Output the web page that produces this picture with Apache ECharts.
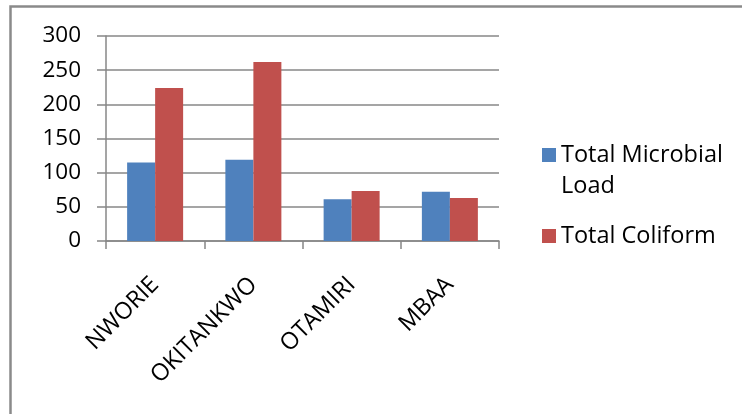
<!DOCTYPE html>
<html>
<head>
<meta charset="utf-8">
<script src="https://cdn.jsdelivr.net/npm/echarts@6/dist/echarts.min.js"></script>
<style>
  html, body { margin: 0; padding: 0; background: #fff; }
  #chart { width: 742px; height: 414px; }
</style>
</head>
<body>
<div id="chart"></div>
<script>
// Sampling stations along the rivers
const categories = ['NWORIE', 'OKITANKWO', 'OTAMIRI', 'MBAA'];
// Counts per station
const microbialLoad = [115, 119, 61, 72];
const coliform = [224, 262, 73, 63];
// Value axis range
const yMin = 0;
const yMax = 300;
const yStep = 50;

const FONT = 'Open Sans';
const GRID_GRAY = '#878787';
const LINE_H = 31;

// Legend swatch for a two-line label: a 14px square beside the first line,
// inside a box as tall as both lines.
const twoLineSwatch = 'path://M0,0L0.01,0M0,8.5L14,8.5L14,22.5L0,22.5Z M0,62L0.01,62';

const legendText = {
  fontFamily: FONT,
  fontSize: 23.5,
  color: '#000',
  lineHeight: LINE_H
};

const chart = echarts.init(document.getElementById('chart'), null, { renderer: 'canvas' });

chart.setOption({
  backgroundColor: '#ffffff',
  animation: false,
  textStyle: { fontFamily: FONT },
  graphic: [{
    type: 'rect',
    shape: { x: 10.5, y: 6.5, width: 1000, height: 1000 },
    style: { fill: 'none', stroke: '#8a8a8a', lineWidth: 2.5 },
    silent: true
  }],
  grid: { left: 106, right: 243, top: 36, bottom: 173, containLabel: false },
  legend: [
    {
      orient: 'vertical',
      left: 542,
      top: 139.5,
      padding: 0,
      itemWidth: 14,
      itemHeight: 2 * LINE_H,
      formatter: function () { return 'Total Microbial\nLoad'; },
      textStyle: legendText,
      data: [{ name: 'Total Microbial Load', icon: twoLineSwatch }]
    },
    {
      orient: 'vertical',
      left: 542,
      top: 220.5,
      padding: 0,
      itemWidth: 14,
      itemHeight: 14,
      icon: 'rect',
      textStyle: legendText,
      data: ['Total Coliform']
    }
  ],
  xAxis: {
    type: 'category',
    data: categories,
    axisLine: { lineStyle: { color: GRID_GRAY, width: 1.5 } },
    axisTick: { show: true, length: 8, lineStyle: { color: GRID_GRAY, width: 1.5 } },
    axisLabel: {
      rotate: 45,
      margin: 40,
      color: '#000',
      fontFamily: FONT,
      fontSize: 23.5
    }
  },
  yAxis: {
    type: 'value',
    min: yMin,
    max: yMax,
    interval: yStep,
    axisLine: { show: true, lineStyle: { color: GRID_GRAY, width: 1.5 } },
    axisTick: { show: true, length: 9, lineStyle: { color: GRID_GRAY, width: 1.5 } },
    splitLine: { show: true, lineStyle: { color: GRID_GRAY, width: 1.5 } },
    axisLabel: {
      margin: 25,
      color: '#000',
      fontFamily: FONT,
      fontSize: 22.5
    }
  },
  series: [
    {
      name: 'Total Microbial Load',
      type: 'bar',
      data: microbialLoad,
      barGap: '0%',
      barCategoryGap: '43%',
      itemStyle: { color: '#4F81BD' }
    },
    {
      name: 'Total Coliform',
      type: 'bar',
      data: coliform,
      barGap: '0%',
      barCategoryGap: '43%',
      itemStyle: { color: '#C0504D' }
    }
  ]
});
</script>
</body>
</html>
